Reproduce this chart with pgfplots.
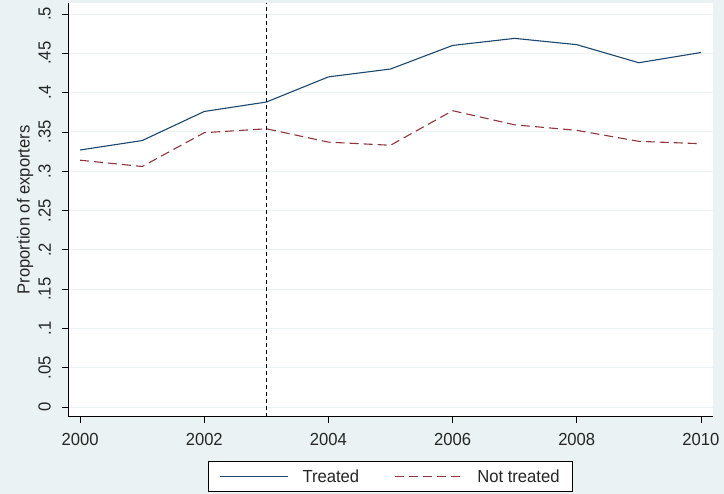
\documentclass[border=0pt]{standalone}
\usepackage{pgfplots}
\pgfplotsset{compat=1.18}
\usepackage{fontspec}
\setmainfont{Liberation Sans}[FakeStretch=0.95]
\definecolor{bgc}{HTML}{EAF2F3}
\definecolor{snavy}{HTML}{1A476F}
\definecolor{smaroon}{HTML}{90353B}
\begin{document}
\begin{tikzpicture}
\fill[bgc] (0bp,0bp) rectangle (724bp,494bp);
\begin{axis}[
  at={(68.3bp,77.3bp)}, anchor=south west,
  scale only axis, width=644.4bp, height=413.7bp,
  xmin=1999.81, xmax=2010.19, ymin=-0.0123, ymax=0.514,
  axis x line*=bottom, axis y line*=left,
  axis line style={-, black, line width=0.8pt},
  axis background/.style={fill=white},
  tick align=outside, major tick length=6bp,
  tick style={black, line width=0.7pt},
  xtick={2000,2002,2004,2006,2008,2010},
  xticklabels={2000,2002,2004,2006,2008,2010},
  ytick={0,0.05,0.1,0.15,0.2,0.25,0.3,0.35,0.4,0.45,0.5},
  yticklabels={0,.05,.1,.15,.2,.25,.3,.35,.4,.45,.5},
  ymajorgrids, grid style={bgc, line width=1pt},
  tick label style={font=\fontsize{17.5bp}{21bp}\selectfont, black!85},
  yticklabel style={rotate=90, anchor=south},
  yticklabel shift=8bp,
  xticklabel shift=7bp,
  ylabel={Proportion of exporters},
  ylabel style={at={(axis description cs:-0.0672,0.5)}, anchor=center, font=\fontsize{17.5bp}{21bp}\selectfont, black!85},
  legend columns=2,
  legend style={at={(axis description cs:0.5,-0.1446)}, anchor=center,
    draw=black, fill=white, line width=0.8pt,
    font=\fontsize{17.5bp}{21bp}\selectfont, text=black!85,
    inner xsep=11bp, inner ysep=6bp,
    /tikz/every odd column/.append style={column sep=12bp},
    /tikz/every even column/.append style={column sep=33bp}},
  legend image code/.code={\draw[#1] (0bp,0bp) -- (68bp,0bp);},
]
\addplot[snavy, line width=1.1pt] coordinates {
 (2000,0.327) (2001,0.339) (2002,0.376) (2003,0.388) (2004,0.420) (2005,0.430)
 (2006,0.460) (2007,0.469) (2008,0.461) (2009,0.438) (2010,0.451)};
\addlegendentry{Treated}
\addplot[smaroon, line width=1.1pt, dash pattern=on 9bp off 5bp] coordinates {
 (2000,0.314) (2001,0.306) (2002,0.349) (2003,0.354) (2004,0.337) (2005,0.333)
 (2006,0.377) (2007,0.359) (2008,0.352) (2009,0.338) (2010,0.335)};
\addlegendentry{Not treated}
\addplot[black, line width=0.8pt, dash pattern=on 4bp off 3bp, forget plot] coordinates {(2003,-0.0123) (2003,0.514)};
\end{axis}
\end{tikzpicture}
\end{document}
